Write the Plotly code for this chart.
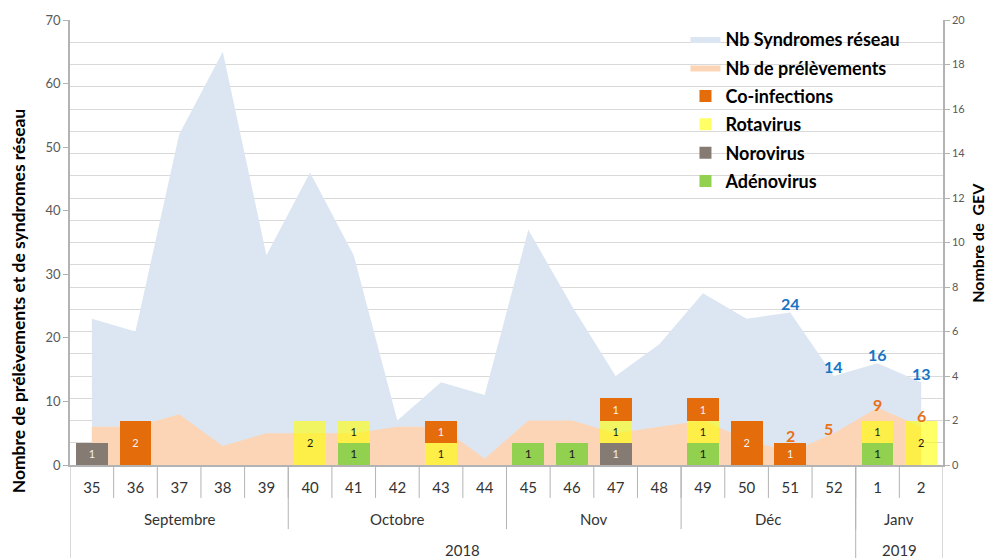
import plotly.graph_objects as go

# Weeks (ISO week numbers) shown on the x axis
weeks = ["35", "36", "37", "38", "39", "40", "41", "42", "43", "44",
         "45", "46", "47", "48", "49", "50", "51", "52", "1", "2"]

# Left axis series
syndromes = [23, 21, 52, 65, 33, 46, 33, 7, 13, 11, 37, 25, 14, 19, 27, 23, 24, 14, 16, 13]
prelevements = [6, 6, 8, 3, 5, 5, 5, 6, 6, 1, 7, 7, 5, 6, 7, 4, 2, 5, 9, 6]

# Right axis series (number of GEV), None = no bar
adenovirus = [None, None, None, None, None, None, 1, None, None, None,
              1, 1, None, None, 1, None, None, None, 1, None]
norovirus = [1, None, None, None, None, None, None, None, None, None,
             None, None, 1, None, None, None, None, None, None, None]
rotavirus = [None, None, None, None, None, 2, 1, None, 1, None,
             None, None, 1, None, 1, None, None, None, 1, 2]
coinfections = [None, 2, None, None, None, None, None, None, 1, None,
                None, None, 1, None, 1, 2, 1, None, None, None]

# Only the last four weeks get a value label on the areas
labelled = 4

# Group levels under the weeks
months = ["Septembre", "Octobre", "Nov", "Déc", "Janv"]
month_sizes = [5, 5, 4, 4, 2]
years = ["2018", "2019"]
year_sizes = [18, 2]

FONT = "Lato"
BLUE_TXT = "#1874C4"
ORANGE_TXT = "#E8711A"
x = list(range(len(weeks)))
n = len(weeks)

fig = go.Figure()

# Areas on the left axis
fig.add_trace(go.Scatter(
    x=x, y=syndromes, name="Nb Syndromes réseau", mode="lines",
    fill="tozeroy", fillcolor="#DCE6F2", line=dict(width=0, color="#DCE6F2"),
    legendrank=1, legendgroup="a",
))
fig.add_trace(go.Scatter(
    x=x, y=prelevements, name="Nb de prélèvements", mode="lines",
    fill="tozeroy", fillcolor="#FBD5B5", line=dict(width=0, color="#FBD5B5"),
    legendrank=2, legendgroup="b",
))

# Stacked bars on the right axis
bar_specs = [
    ("Adénovirus", adenovirus, "#92D050", "#1a1a1a", 12, 6),
    ("Norovirus", norovirus, "#857B73", "#f2f2f2", 11, 5),
    ("Rotavirus", rotavirus, "rgba(255,255,0,0.6)", "#1a1a1a", 11, 4),
    ("Co-infections", coinfections, "#E46C0A", "#f2f2f2", 11, 3),
]
for name, vals, color, tcolor, tsize, rank in bar_specs:
    fig.add_trace(go.Bar(
        x=x, y=vals, name=name, yaxis="y2", width=0.73,
        marker=dict(color=color, line=dict(width=0)),
        text=vals, texttemplate="%{y}", textposition="inside",
        insidetextanchor="middle", constraintext="none",
        textfont=dict(family=FONT, size=tsize, color=tcolor),
        legendrank=rank, legendgroup=name,
    ))

# Value labels on the last weeks of both areas (offsets in px above the point)
blue_shift = [9, 10, 9, 9]
orange_shift = [17, 5, 3, 11]
for k, i in enumerate(range(n - labelled, n)):
    fig.add_annotation(x=i, y=syndromes[i], xref="x", yref="y", text=str(syndromes[i]),
                       showarrow=False, yshift=blue_shift[k], yanchor="middle",
                       font=dict(family=FONT, size=16, color=BLUE_TXT, weight="bold"))
    fig.add_annotation(x=i, y=prelevements[i], xref="x", yref="y", text=str(prelevements[i]),
                       showarrow=False, yshift=orange_shift[k], yanchor="middle",
                       xshift=-5 if k == 1 else 0,
                       font=dict(family=FONT, size=16, color=ORANGE_TXT, weight="bold"))

grid = "#D9D9D9"
axis_col = "#B3B3B3"


# Separators under the x axis (weeks, months, years)
def vline(xpos, ybottom):
    fig.add_shape(type="line", xref="x", yref="paper", x0=xpos, x1=xpos,
                  y0=0, y1=ybottom, line=dict(color=axis_col, width=1))


for i in range(1, n):
    vline(i - 0.5, -0.074)
pos = 0
for name, size in zip(months, month_sizes):
    fig.add_annotation(x=pos + (size - 1) / 2, y=-0.121, xref="x", yref="paper",
                       text=name, showarrow=False, yanchor="middle",
                       font=dict(family=FONT, size=15, color="#333333"))
    pos += size
    if pos < n:
        vline(pos - 0.5, -0.144)
pos = 0
vline(-0.5, -0.23)
for name, size in zip(years, year_sizes):
    fig.add_annotation(x=pos + (size - 1) / 2, y=-0.191, xref="x", yref="paper",
                       text=name, showarrow=False, yanchor="middle",
                       font=dict(family=FONT, size=15, color="#333333"))
    pos += size
    vline(pos - 0.5, -0.23)

# Axis titles
fig.add_annotation(x=-0.0596, y=0.37, xref="paper", yref="paper",
                   xanchor="center", yanchor="middle",
                   text="Nombre de prélèvements et de syndromes réseau",
                   textangle=-90, showarrow=False,
                   font=dict(family=FONT, size=17.5, color="black", weight="bold"))
fig.add_annotation(x=1.040, y=0.499, xref="paper", yref="paper",
                   xanchor="center", yanchor="middle",
                   text="Nombre de\u00a0 GEV", textangle=-90, showarrow=False,
                   font=dict(family=FONT, size=16, color="black", weight="bold"))

fig.update_layout(
    width=987, height=558,
    margin=dict(l=70, r=44, t=20, b=93),
    paper_bgcolor="white", plot_bgcolor="white",
    barmode="stack",
    font=dict(family=FONT, color="#404040"),
    xaxis=dict(
        range=[-0.5, n - 0.5], tickvals=x, ticktext=weeks,
        showgrid=False, zeroline=False, ticks="",
        showline=True, linecolor=axis_col, linewidth=1.5,
        tickfont=dict(family=FONT, size=15, color="#333333"),
        ticklabelstandoff=8,
    ),
    yaxis=dict(
        range=[0, 70], dtick=10, showgrid=False, zeroline=False,
        ticks="outside", ticklen=5, tickcolor=axis_col,
        showline=True, linecolor=axis_col, linewidth=1.5,
        tickfont=dict(family=FONT, size=13, color="#595959"),
    ),
    yaxis2=dict(
        range=[0, 20], dtick=2, overlaying="y", side="right",
        showgrid=True, gridcolor=grid, gridwidth=1, zeroline=False,
        minor=dict(dtick=1, showgrid=True, gridcolor=grid, ticks=""),
        ticks="outside", ticklen=5, tickcolor=axis_col,
        showline=True, linecolor=axis_col, linewidth=1.5,
        tickfont=dict(family=FONT, size=11, color="#595959"),
    ),
    legend=dict(
        x=0.705, y=0.998, xanchor="left", yanchor="top",
        bgcolor="rgba(0,0,0,0)", tracegroupgap=2,
        font=dict(family=FONT, size=18, color="black", weight="bold"),
        itemwidth=30,
    ),
    showlegend=True,
)

# Drop the browser's default body margin so the figure fills the window exactly
fig.write_html("out.html", config={"displayModeBar": False},
               post_script="document.body.style.margin='0';")
